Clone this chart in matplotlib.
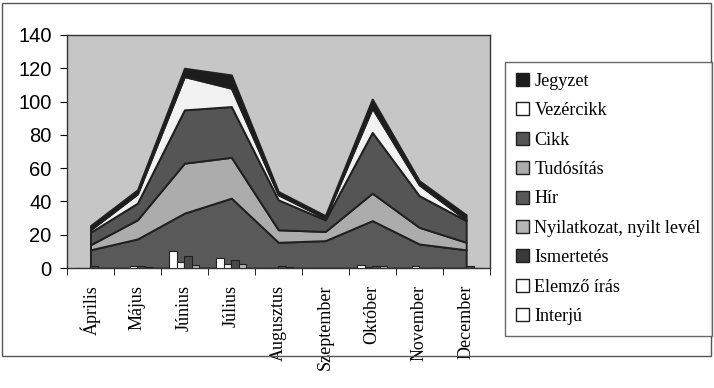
import numpy as np
import matplotlib.pyplot as plt
from matplotlib.patches import Rectangle

months = ['Április', 'Május', 'Június', 'Július', 'Augusztus',
          'Szeptember', 'Október', 'November', 'December']

# stacked areas (bottom to top)
hir = [11, 17.5, 33, 42, 15.5, 16.5, 28.5, 14.5, 11]
tudositas = [3, 11.5, 30, 24.5, 7.5, 5.5, 16.5, 10, 4.5]
cikk = [7.5, 10, 32, 30.5, 18, 7, 36.5, 19, 13]
vezercikk = [1.5, 5.5, 20, 11, 3, 1, 14.5, 6.5, 0.5]
jegyzet = [2.5, 2.5, 5, 8, 2, 1.5, 5.5, 2.5, 3]

# clustered bars
interju = [0, 0, 10, 6, 0, 0, 2, 0, 0]
elemzo = [0, 1, 3.5, 2.5, 0, 0, 0.5, 1.5, 0]
ismertetes = [1, 1, 7, 5, 1, 0, 1, 0, 1]
nyilatkozat = [0, 0.5, 2, 2.5, 0.5, 0, 1, 0, 0]

plt.rcParams['font.family'] = ['Liberation Serif', 'DejaVu Serif']

fig = plt.figure(figsize=(7.14, 3.88), dpi=100)
ax = fig.add_axes([0.0938, 0.309, 0.592, 0.601])
ax.set_facecolor('#c6c6c6')

x = np.arange(len(months))
areas = [hir, tudositas, cikk, vezercikk, jegyzet]
area_cols = ['#595959', '#acacac', '#555555', '#f2f2f2', '#1c1c1c']
ax.stackplot(x, *areas, colors=area_cols, edgecolor='#202020',
             linewidth=1.4, zorder=2)

bars = [interju, elemzo, ismertetes, nyilatkozat]
bar_cols = ['#ffffff', '#f0f0f0', '#4a4a4a', '#b4b4b4']
w = 0.16
for i, (vals, c) in enumerate(zip(bars, bar_cols)):
    ax.bar(x + (i - 1.5) * w, vals, w, color=c, edgecolor='#202020',
           linewidth=0.8, zorder=3)

ax.set_xlim(-0.5, 8.5)
ax.set_ylim(0, 140)
ax.set_yticks(range(0, 141, 20))
ax.set_yticklabels([str(v) for v in range(0, 141, 20)],
                   family=['Liberation Sans', 'DejaVu Sans'], fontsize=14.5)
ax.set_xticks(x)
ax.set_xticklabels(months, rotation=90, fontsize=13)
ax.set_xticks(np.arange(-0.5, 9, 1), minor=True)
ax.tick_params(axis='x', which='major', length=0, pad=12)
ax.tick_params(axis='x', which='minor', length=5, direction='out')
ax.tick_params(axis='y', length=5, direction='out', pad=6)
for s in ax.spines.values():
    s.set_color('#333333')
    s.set_linewidth(1.0)

order = ['Jegyzet', 'Vezércikk', 'Cikk', 'Tudósítás', 'Hír',
         'Nyilatkozat, nyilt levél', 'Ismertetés', 'Elemző írás', 'Interjú']
leg_cols = ['#1c1c1c', '#ffffff', '#555555', '#acacac', '#595959',
            '#b4b4b4', '#3a3a3a', '#ffffff', '#ffffff']
handles = [Rectangle((0, 0), 1, 1, facecolor=c, edgecolor='#202020',
                     linewidth=1.0) for c in leg_cols]
leg = fig.legend(handles, order, loc='upper left',
                 bbox_to_anchor=(505 / 714, 1 - 62 / 388), fontsize=13.1,
                 handlelength=0.72, handleheight=0.72, handletextpad=0.3,
                 labelspacing=0.68, borderpad=0.6, frameon=True,
                 fancybox=False, borderaxespad=0)
leg.get_frame().set_edgecolor('#444444')
leg.get_frame().set_linewidth(1.0)

fig.patches.append(Rectangle((2 / 714, 1 - 356 / 388), 709 / 714, 353 / 388,
                             transform=fig.transFigure, fill=False,
                             edgecolor='#555555', linewidth=1.0))

fig.savefig('out.png', dpi=100)
